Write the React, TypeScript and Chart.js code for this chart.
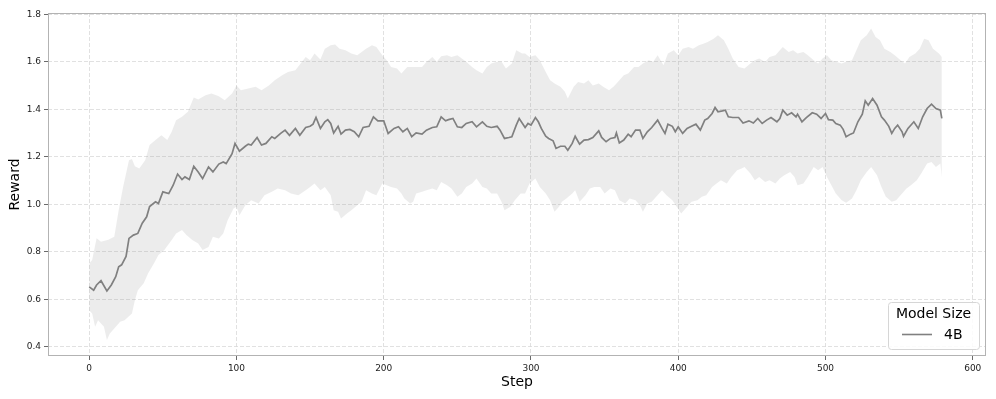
import React, { useEffect, useRef } from 'react';
import { Chart, registerables } from 'chart.js';

Chart.register(...registerables);

// ---- Data ----
const seriesLabel = '4B';
const legendTitle = 'Model Size';
const xTitle = 'Step';
const yTitle = 'Reward';

const xTicks = [0, 100, 200, 300, 400, 500, 600];
const yTicks = [0.4, 0.6, 0.8, 1.0, 1.2, 1.4, 1.6, 1.8];

const meanSteps = [
  0, 3, 5, 8, 12, 15, 18, 20, 22, 25, 27, 30, 33, 36, 39, 41, 45, 47, 50, 54, 57, 60, 63, 65, 68, 71, 74, 77, 81, 84,
  88, 91, 93, 97, 99, 102, 106, 108, 110, 114, 117, 120, 124, 126, 130, 133, 136, 140, 143,
  147, 150, 152, 154, 157, 160, 162, 164, 166, 169, 171, 174, 177, 180, 183, 186, 190, 193, 196, 200,
  203, 207, 210, 213, 216, 219, 222, 226, 229, 233, 236, 239, 242, 244, 247, 250, 253, 256, 260, 263,
  267, 270, 273, 277, 279, 282, 285, 287, 290, 292,
  296, 298, 300, 303, 305, 307, 310, 312, 315, 317, 320, 323, 325, 328, 330, 333, 336, 339, 342, 346,
  348, 351, 354, 357, 358, 360, 363, 366, 368, 371, 374, 376, 379, 382, 386, 389, 391, 393, 396, 398,
  400, 403, 406, 409, 412, 415, 418, 420, 423, 425, 427, 430, 432, 434, 437, 441, 444,
  448, 451, 454, 457, 460, 463, 467, 469, 471, 474, 477, 480, 481, 484, 487, 491, 494, 497, 500, 502,
  505, 507, 510, 512, 514, 517, 519, 522, 525, 527, 529, 532, 535, 538, 540, 543, 545, 547, 549, 552,
  553, 556, 560, 563, 566, 569, 572, 575, 578, 579,
];
const meanValues = [
  0.652, 0.638, 0.66, 0.678, 0.635, 0.66, 0.695, 0.737, 0.745, 0.78, 0.856, 0.87, 0.877, 0.92, 0.947, 0.99, 1.01, 1.003, 1.052, 1.045,
  1.08, 1.127, 1.104, 1.115, 1.104, 1.16, 1.136, 1.108, 1.157, 1.136, 1.169, 1.178, 1.171, 1.213, 1.256, 1.223, 1.244, 1.253, 1.249, 1.281,
  1.249, 1.256, 1.284, 1.277, 1.298, 1.312, 1.29, 1.319, 1.29,
  1.323, 1.328, 1.337, 1.365, 1.319, 1.347, 1.356, 1.34, 1.3, 1.328, 1.295, 1.312, 1.315, 1.305, 1.284, 1.323, 1.328, 1.368, 1.351, 1.351,
  1.298, 1.319, 1.326, 1.305, 1.319, 1.284, 1.3, 1.295, 1.312, 1.323, 1.326, 1.368, 1.351, 1.356, 1.361, 1.326, 1.323, 1.34, 1.347, 1.326,
  1.347, 1.328, 1.323, 1.328, 1.312, 1.277, 1.281, 1.284, 1.333, 1.361,
  1.323, 1.34, 1.333, 1.365, 1.347, 1.319, 1.286, 1.277, 1.267, 1.235, 1.244, 1.244, 1.227, 1.256, 1.286, 1.253, 1.27, 1.272, 1.281, 1.309,
  1.281, 1.263, 1.277, 1.281, 1.3, 1.258, 1.27, 1.295, 1.284, 1.312, 1.312, 1.277, 1.305, 1.323, 1.354, 1.319, 1.298, 1.337, 1.328, 1.305,
  1.326, 1.298, 1.319, 1.328, 1.337, 1.312, 1.354, 1.361, 1.382, 1.407, 1.389, 1.393, 1.396, 1.368, 1.365, 1.365, 1.342,
  1.351, 1.342, 1.361, 1.34, 1.354, 1.365, 1.347, 1.361, 1.396, 1.375, 1.385, 1.368, 1.379, 1.347, 1.365, 1.385, 1.379, 1.361, 1.382, 1.356,
  1.354, 1.34, 1.333, 1.315, 1.284, 1.295, 1.3, 1.347, 1.379, 1.435, 1.417, 1.445, 1.417, 1.368, 1.354, 1.328, 1.298, 1.319, 1.333, 1.305,
  1.286, 1.319, 1.347, 1.319, 1.368, 1.403, 1.421, 1.403, 1.396, 1.361,
];

const upperSteps = [
  0, 2, 5, 8, 13, 17, 20, 23, 27, 29, 31, 34, 38, 41, 45, 49, 53, 56, 59, 63, 67, 71, 74, 79, 83, 88, 92, 97, 100, 103,
  108, 113, 117, 122, 126, 131, 135, 140,
  147, 150, 153, 157, 160, 164, 167, 170, 174, 178, 182, 185, 188, 192, 195, 199, 202, 205, 209, 212, 216, 219,
  222, 226, 229, 233, 236, 239, 243, 246, 250, 253, 256, 260, 263, 267, 270, 273, 277, 280, 283, 287, 290, 294,
  296, 299, 303, 306, 310, 313, 316, 320, 323, 325, 329, 332, 336, 339, 342, 346, 349, 353, 356, 359,
  363, 366, 370, 373, 376, 380, 383, 386, 390, 393, 397, 400, 403, 407, 410, 414, 417, 420, 424, 427, 431, 434, 437, 441,
  445, 449, 452, 455, 459, 462, 466, 469, 471, 475, 478, 481, 485, 488, 492, 495, 498, 501, 504, 507,
  511, 514, 518, 521, 524, 528, 531, 534, 537, 540, 544, 547, 551, 554, 557, 561, 564, 567, 570, 573, 577, 579,
];
const upperValues = [
  0.75, 0.765, 0.857, 0.842, 0.85, 0.863, 0.975, 1.073, 1.185, 1.19, 1.16, 1.15, 1.185, 1.249, 1.27, 1.29, 1.27, 1.305, 1.354, 1.368,
  1.389, 1.449, 1.441, 1.459, 1.466, 1.455, 1.438, 1.466, 1.5, 1.48, 1.487, 1.494, 1.48, 1.5, 1.522, 1.543, 1.557, 1.564,
  1.62, 1.606, 1.634, 1.609, 1.655, 1.669, 1.672, 1.655, 1.648, 1.634, 1.627, 1.641, 1.655, 1.669, 1.662, 1.627, 1.606, 1.578, 1.571, 1.55,
  1.578, 1.578, 1.578, 1.578, 1.599, 1.62, 1.6, 1.623, 1.627, 1.62, 1.627, 1.613, 1.6, 1.578, 1.564, 1.55, 1.578, 1.592, 1.6, 1.6,
  1.571, 1.592, 1.648, 1.634,
  1.634, 1.62, 1.627, 1.606, 1.557, 1.522, 1.508, 1.494, 1.473, 1.445, 1.494, 1.515, 1.508, 1.522, 1.5, 1.508, 1.494, 1.48, 1.494, 1.515,
  1.543, 1.55, 1.578, 1.578, 1.592, 1.606, 1.6, 1.627, 1.585, 1.634, 1.648, 1.627, 1.655, 1.662, 1.655, 1.669, 1.676, 1.683, 1.697, 1.711,
  1.69, 1.655, 1.613, 1.578,
  1.571, 1.592, 1.606, 1.613, 1.599, 1.62, 1.627, 1.648, 1.662, 1.641, 1.648, 1.634, 1.641, 1.627, 1.606, 1.592, 1.613, 1.627, 1.606, 1.6,
  1.592, 1.6, 1.606, 1.648, 1.69, 1.711, 1.74, 1.704, 1.69, 1.655, 1.641, 1.627, 1.606, 1.592, 1.62, 1.634, 1.655, 1.697, 1.69, 1.655,
  1.634, 1.62,
];

const lowerSteps = [
  0, 2, 4, 6, 10, 12, 14, 17, 21, 24, 29, 31, 33, 37, 40, 44, 47, 51, 56, 59, 63, 66, 70, 74, 77, 81, 84, 88, 91, 94,
  98, 100, 102, 106, 110, 115, 119, 124, 128, 133, 137, 142,
  147, 150, 153, 157, 160, 164, 166, 169, 171, 175, 178, 182, 185, 188, 192, 195, 199, 202, 205, 209,
  212, 214, 218, 220, 222, 226, 229, 233, 236, 239, 243, 246, 250, 253, 256, 260, 263, 267, 270, 273,
  277, 280, 282, 286, 289, 293,
  296, 299, 303, 306, 310, 313, 316, 319, 321, 324, 328, 330, 333, 337, 340, 343, 347, 350, 354, 357,
  360, 364, 367, 371, 374, 376, 379, 382, 385, 389, 392, 396, 399, 402, 406, 409, 413, 416, 419, 423,
  426, 429, 433, 436, 440, 443,
  445, 449, 452, 455, 459, 462, 466, 469, 472, 476, 479, 481, 485, 488, 492, 495, 498, 501, 504, 507,
  511, 514, 518, 521, 524, 528, 531, 535, 538, 541, 545, 548, 552, 555, 558, 562, 565, 569, 572, 575, 578, 579,
];
const lowerValues = [
  0.554, 0.54, 0.484, 0.512, 0.484, 0.428, 0.456, 0.477, 0.505, 0.512, 0.54, 0.596, 0.638, 0.667, 0.709, 0.751, 0.786, 0.807, 0.849, 0.877,
  0.891, 0.87, 0.849, 0.835, 0.807, 0.82, 0.863, 0.856, 0.877, 0.933, 0.982, 0.989, 0.954, 0.996, 1.017, 1.003, 1.038, 1.052, 1.066, 1.059,
  1.045, 1.038,
  1.059, 1.073, 1.087, 1.059, 1.073, 1.038, 0.975, 0.968, 0.94, 0.961, 0.975, 0.996, 1.01, 1.059, 1.045, 1.038, 1.087, 1.08, 1.073, 1.066,
  1.045, 1.024, 1.003, 1.01, 1.045, 1.052, 1.059, 1.066, 1.059, 1.094, 1.08, 1.066, 1.031, 1.045, 1.073, 1.087, 1.108, 1.073, 1.066, 1.045,
  1.045, 1.01, 0.975, 0.989, 1.017, 1.045,
  1.045, 1.087, 1.108, 1.073, 1.045, 1.017, 0.968, 0.989, 1.01, 1.024, 1.045, 1.059, 1.01, 1.038, 1.066, 1.073, 1.073, 1.045, 1.066, 1.059,
  1.017, 1.003, 1.024, 1.017, 0.996, 0.968, 1.003, 1.01, 1.031, 1.059, 1.038, 1.017, 0.989, 0.961, 0.989, 1.01, 1.017, 1.031, 1.038, 1.073,
  1.087, 1.101, 1.087, 1.115, 1.143, 1.15,
  1.157, 1.129, 1.101, 1.115, 1.094, 1.101, 1.087, 1.108, 1.122, 1.136, 1.115, 1.08, 1.087, 1.115, 1.157, 1.143, 1.157, 1.115, 1.08, 1.045,
  1.017, 1.006, 1.024, 1.059, 1.101, 1.136, 1.157, 1.122, 1.073, 1.031, 1.01, 1.017, 1.045, 1.066, 1.08, 1.101, 1.129, 1.171, 1.178, 1.157,
  1.171, 1.115,
];

const FONT = '"DejaVu Sans", "Liberation Sans", sans-serif';
const LINE_COLOR = 'rgb(128,128,128)';

function toPoints(xs: number[], ys: number[]) {
  return xs.map((x, i) => ({ x, y: ys[i] }));
}

const framePlugin = {
  id: 'frame',
  afterDatasetsDraw(chart: any) {
    const { ctx, chartArea: a } = chart;
    ctx.save();
    ctx.strokeStyle = '#b3b3b3';
    ctx.lineWidth = 1;
    ctx.strokeRect(Math.round(a.left) + 0.5, Math.round(a.top) + 0.5, Math.round(a.right - a.left) - 1, Math.round(a.bottom - a.top) - 1);
    ctx.restore();
  },
};

const legendPlugin = {
  id: 'boxLegend',
  afterDraw(chart: any) {
    const { ctx, chartArea: a } = chart;
    const w = 91;
    const h = 47;
    const x = a.right - 7 - w;
    const y = a.bottom - 7 - h;
    ctx.save();
    ctx.beginPath();
    if (ctx.roundRect) ctx.roundRect(x + 0.5, y + 0.5, w, h, 3);
    else ctx.rect(x + 0.5, y + 0.5, w, h);
    ctx.fillStyle = 'rgba(255,255,255,0.85)';
    ctx.fill();
    ctx.strokeStyle = '#d6d6d6';
    ctx.lineWidth = 1;
    ctx.stroke();
    ctx.fillStyle = '#000';
    ctx.font = `14px ${FONT}`;
    ctx.textAlign = 'center';
    ctx.textBaseline = 'middle';
    ctx.fillText(legendTitle, x + w / 2, y + 12);
    ctx.beginPath();
    ctx.strokeStyle = LINE_COLOR;
    ctx.lineWidth = 1.6;
    ctx.moveTo(x + 14, y + 32.5);
    ctx.lineTo(x + 44, y + 32.5);
    ctx.stroke();
    ctx.textAlign = 'left';
    ctx.fillText(seriesLabel, x + 56, y + 33);
    ctx.restore();
  },
};

function gridOpts() {
  return {
    color: '#d9d9d9',
    lineWidth: 0.8,
    tickColor: '#444',
    tickLength: 4,
    tickWidth: 0.8,
    tickBorderDash: [],
  };
}

export default function App() {
  const ref = useRef<HTMLCanvasElement | null>(null);

  useEffect(() => {
    if (!ref.current) return;
    const chart = new Chart(ref.current, {
      type: 'line',
      data: {
        datasets: [
          {
            label: seriesLabel,
            data: toPoints(meanSteps, meanValues),
            borderColor: LINE_COLOR,
            borderWidth: 1.7,
            pointRadius: 0,
            tension: 0,
            fill: false,
          },
          {
            label: 'upper',
            data: toPoints(upperSteps, upperValues),
            borderWidth: 0,
            borderColor: 'rgba(0,0,0,0)',
            backgroundColor: 'rgba(128,128,128,0.15)',
            pointRadius: 0,
            tension: 0,
            fill: '+1',
          },
          {
            label: 'lower',
            data: toPoints(lowerSteps, lowerValues),
            borderWidth: 0,
            borderColor: 'rgba(0,0,0,0)',
            pointRadius: 0,
            tension: 0,
            fill: false,
          },
        ],
      },
      options: {
        animation: false,
        responsive: false,
        events: [],
        layout: { padding: { top: 13, right: 10, left: 0, bottom: 0 } },
        plugins: { legend: { display: false }, tooltip: { enabled: false } },
        scales: {
          x: {
            type: 'linear',
            min: -28,
            max: 609,
            afterBuildTicks: (s: any) => {
              s.ticks = xTicks.map((v) => ({ value: v }));
            },
            afterFit: (s: any) => {
              s.height = 43;
            },
            grid: gridOpts(),
            border: { display: false, dash: [4, 2] },
            ticks: {
              font: { family: FONT, size: 9 },
              color: '#222',
              padding: 3,
              maxRotation: 0,
              callback: (v: any) => String(v),
            },
            title: {
              display: true,
              text: xTitle,
              font: { family: FONT, size: 14 },
              color: '#000',
              padding: { top: 0, bottom: 8 },
            },
          },
          y: {
            type: 'linear',
            min: 0.361,
            max: 1.805,
            afterBuildTicks: (s: any) => {
              s.ticks = yTicks.map((v) => ({ value: v }));
            },
            afterFit: (s: any) => {
              s.width = 48;
            },
            grid: gridOpts(),
            border: { display: false, dash: [4, 2] },
            ticks: {
              font: { family: FONT, size: 9 },
              color: '#222',
              padding: 3,
              callback: (v: any) => Number(v).toFixed(1),
            },
            title: {
              display: true,
              text: yTitle,
              font: { family: FONT, size: 14 },
              color: '#000',
              padding: { top: 7, bottom: 0 },
            },
          },
        },
      },
      plugins: [framePlugin, legendPlugin],
    } as any);
    return () => chart.destroy();
  }, []);

  return (
    <div style={{ position: 'absolute', left: 0, top: 0, width: 996, height: 399, background: '#fff' }}>
      <canvas ref={ref} width={996} height={399} style={{ display: 'block', width: 996, height: 399 }} />
    </div>
  );
}
